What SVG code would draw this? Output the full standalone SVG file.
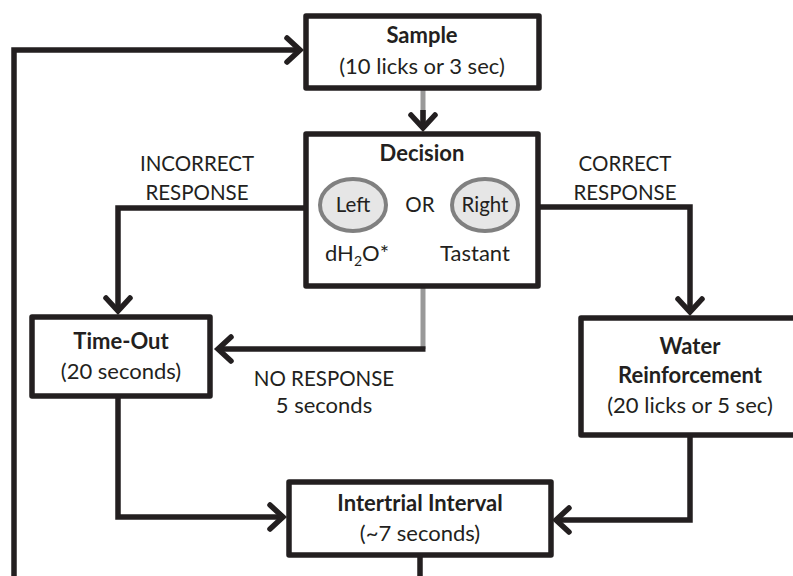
<svg xmlns="http://www.w3.org/2000/svg" width="793" height="576" viewBox="0 0 793 576">
<style>
.box{fill:#fff;stroke:#231f20;stroke-width:5.5;stroke-linejoin:round}
.ln{fill:none;stroke:#231f20;stroke-width:5.5;stroke-linejoin:miter}
.gl{fill:none;stroke:#999;stroke-width:5}
.ov{fill:#e6e6e6;stroke:#808080;stroke-width:4}
text{font-family:Lato,"Open Sans",sans-serif;font-size:22px;fill:#231f20;text-anchor:middle}
.b{font-weight:bold}
.c{font-size:20.5px}
.e{font-size:20.5px}
</style>
<defs>
<marker id="arr" markerUnits="userSpaceOnUse" markerWidth="40" markerHeight="40" viewBox="-20 -20 40 40" refX="0" refY="0" orient="auto" overflow="visible">
<path d="M-13,-12 L0,0 L-13,12" fill="none" stroke="#231f20" stroke-width="5.5" stroke-linecap="round" stroke-linejoin="miter"/>
</marker>
</defs>
<g id="connectors">
<path class="ln" d="M420,557 V590 H14 V50 H300" marker-end="url(#arr)"/>
<path class="gl" d="M423,90 V126"/>
<path class="ln" d="M423,110 V128" stroke="none" marker-end="url(#arr)"/>
<path class="ln" d="M306,208 H118 V311" marker-end="url(#arr)"/>
<path class="ln" d="M538,207 H690 V312" marker-end="url(#arr)"/>
<path class="gl" d="M423,288 V349"/>
<path class="ln" d="M425.5,349 H218" marker-end="url(#arr)"/>
<path class="ln" d="M118,398 V517 H283" marker-end="url(#arr)"/>
<path class="ln" d="M690,437 V520 H556" marker-end="url(#arr)"/>
</g>
<g id="sample">
<rect class="box" x="306" y="16" width="233" height="72"/>
<text class="b" x="422" y="43">Sample</text>
<text x="422" y="74">(10 licks or 3 sec)</text>
</g>
<g id="decision">
<rect class="box" x="306" y="134" width="232" height="152"/>
<text class="b" x="422" y="161">Decision</text>
<ellipse class="ov" cx="353" cy="205" rx="33" ry="26"/>
<text class="e" x="353" y="212">Left</text>
<text class="e" x="420" y="212">OR</text>
<ellipse class="ov" cx="485" cy="205" rx="33" ry="26"/>
<text class="e" x="485" y="212">Right</text>
<text x="357" y="261">dH<tspan font-size="14" dy="5">2</tspan><tspan dy="-5">O*</tspan></text>
<text x="475" y="261">Tastant</text>
</g>
<g id="timeout">
<rect class="box" x="32" y="317" width="178" height="79"/>
<text class="b" x="121" y="349">Time-Out</text>
<text x="121" y="379">(20 seconds)</text>
</g>
<g id="water">
<rect class="box" x="581" y="318" width="220" height="117"/>
<text class="b" x="690" y="354">Water</text>
<text class="b" x="690" y="383">Reinforcement</text>
<text x="690" y="413">(20 licks or 5 sec)</text>
</g>
<g id="iti">
<rect class="box" x="289" y="482" width="262" height="73"/>
<text class="b" x="420" y="511">Intertrial Interval</text>
<text x="420" y="541">(~7 seconds)</text>
</g>
<g id="labels">
<text class="c" x="197" y="171">INCORRECT</text>
<text class="c" x="197" y="200">RESPONSE</text>
<text class="c" x="625" y="171">CORRECT</text>
<text class="c" x="625" y="200">RESPONSE</text>
<text class="c" x="324" y="386">NO RESPONSE</text>
<text x="324" y="413">5 seconds</text>
</g>
</svg>
